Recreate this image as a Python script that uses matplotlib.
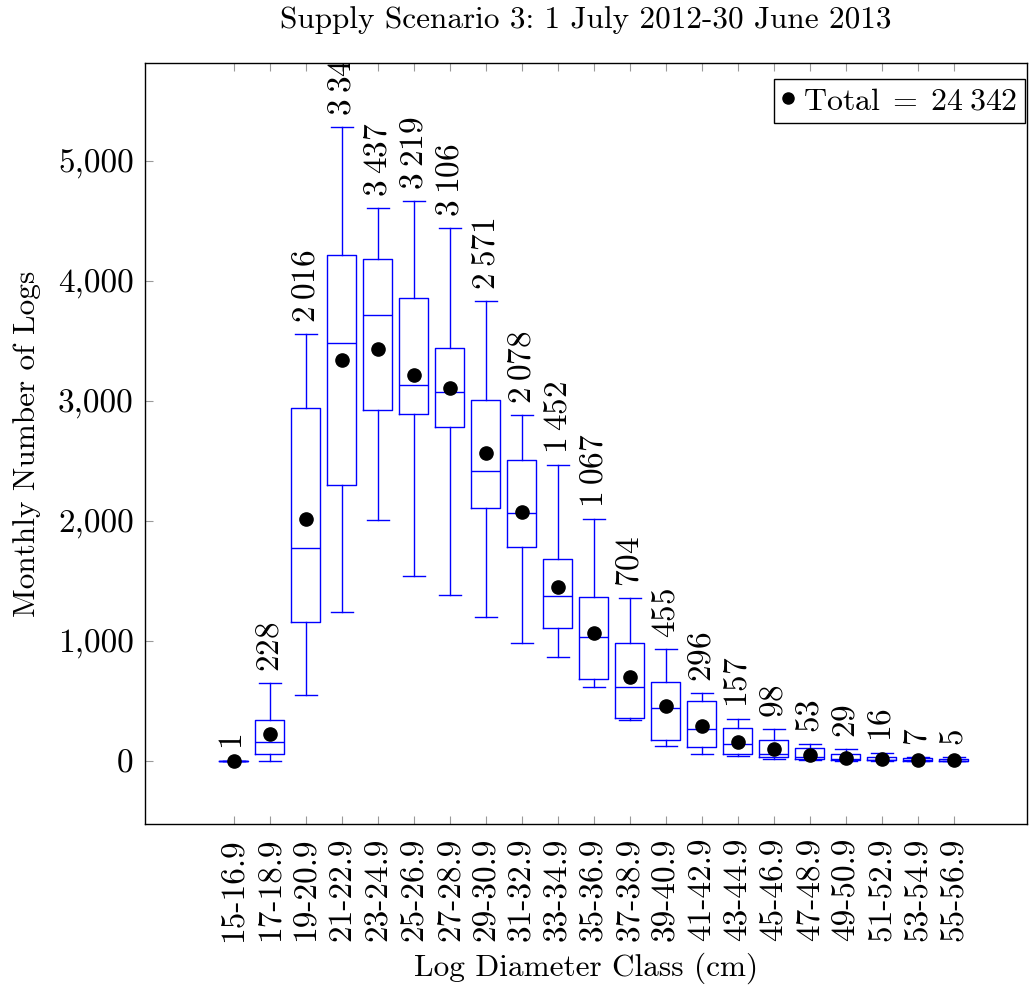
import matplotlib
matplotlib.use("Agg")
import matplotlib.pyplot as plt
from matplotlib.ticker import FuncFormatter, FixedLocator
from matplotlib.lines import Line2D

plt.rcParams['font.family'] = 'cmr10'
plt.rcParams['mathtext.fontset'] = 'cm'
plt.rcParams['axes.formatter.use_mathtext'] = True

categories = ["15-16.9", "17-18.9", "19-20.9", "21-22.9", "23-24.9", "25-26.9",
              "27-28.9", "29-30.9", "31-32.9", "33-34.9", "35-36.9", "37-38.9",
              "39-40.9", "41-42.9", "43-44.9", "45-46.9", "47-48.9", "49-50.9",
              "51-52.9", "53-54.9", "55-56.9"]
whislo = [0, 3, 550, 1242, 2008, 1542, 1383, 1203, 983, 869, 619, 342, 125, 56, 42, 19, 10, 3, 2, 0, 0]
q1 = [0, 58, 1158, 2300, 2925, 2892, 2781, 2108, 1783, 1106, 686, 356, 172, 114, 58, 31, 17, 8, 5, 2, 1]
median = [0, 156, 1775, 3483, 3714, 3133, 3078, 2414, 2067, 1375, 1031, 614, 439, 267, 139, 61, 30, 20, 12, 5, 3]
q3 = [2, 339, 2942, 4213, 4181, 3856, 3439, 3008, 2511, 1681, 1364, 981, 656, 497, 272, 175, 111, 56, 31, 22, 18]
whishi = [3, 650, 3558, 5283, 4608, 4669, 4439, 3833, 2883, 2469, 2014, 1358, 936, 569, 347, 267, 144, 103, 69, 36, 36]
means = [1, 228, 2016, 3343, 3437, 3219, 3106, 2571, 2078, 1452, 1067, 704, 455, 296, 157, 98, 53, 29, 16, 7, 5]
total = 24342

fig = plt.figure(figsize=(10.34, 9.89), dpi=100)
ax = fig.add_axes([0.1402, 0.1668, 0.8530, 0.7695])

positions = list(range(1, len(categories) + 1))
stats = []
for i in range(len(categories)):
    stats.append(dict(whislo=whislo[i], q1=q1[i], med=median[i], q3=q3[i],
                      whishi=whishi[i], mean=means[i], fliers=[]))

blue = '#0000ff'
lw = 1.0
ax.bxp(stats, positions=positions, widths=0.8, showmeans=False, showfliers=False,
       patch_artist=False,
       boxprops=dict(color=blue, linewidth=lw),
       whiskerprops=dict(color=blue, linewidth=lw),
       capprops=dict(color=blue, linewidth=lw),
       medianprops=dict(color=blue, linewidth=lw),
       capwidths=0.63, manage_ticks=False)

ax.plot(positions, means, linestyle='none', marker='o', color='black',
        markersize=9.5, zorder=5)

def fmt_num(v):
    s = f"{v:d}"
    if v >= 1000:
        s = s[:-3] + r"\:" + s[-3:]
    return "$" + s + "$"

for x, top, m in zip(positions, whishi, means):
    t = ax.annotate(fmt_num(m), xy=(x, top), xytext=(0, 8), textcoords='offset points',
                    rotation=90, ha='center', va='bottom', fontsize=24,
                    annotation_clip=False)
    t.set_clip_path(ax.patch)

ax.set_xlim(-1.47, 23.03)
ax.set_ylim(-525, 5817)

ax.xaxis.set_major_locator(FixedLocator(positions))
ax.set_xticklabels(categories, rotation=90, fontsize=24)
ax.set_yticks([0, 1000, 2000, 3000, 4000, 5000])
ax.yaxis.set_major_formatter(FuncFormatter(lambda v, p: f"{int(v):,}"))
ax.tick_params(axis='y', labelsize=24, direction='in', length=6, color='#999999',
               left=True, right=False, pad=8)
ax.tick_params(axis='x', direction='in', length=6, color='#999999',
               bottom=True, top=True, pad=10)

for sp in ax.spines.values():
    sp.set_linewidth(1.0)
    sp.set_color('black')

ax.set_title("Supply Scenario 3: 1 July 2012-30 June 2013", fontsize=22.5, pad=25)
ax.set_ylabel("Monthly Number of Logs", fontsize=22.5, labelpad=12)
ax.set_xlabel("Log Diameter Class (cm)", fontsize=22.5, labelpad=8)

total_label = (r"$\mathrm{Total}\;=\;" + f"{total // 1000}" + r"\:" +
               f"{total % 1000:03d}" + "$")
handle = Line2D([], [], linestyle='none', marker='o', color='black', markersize=8)
leg = ax.legend([handle], [total_label], loc='upper right',
                bbox_to_anchor=(0.9977, 0.979), fontsize=23,
                frameon=True, fancybox=False, edgecolor='black', framealpha=1,
                handlelength=0.4, handletextpad=0.25, borderpad=0.25,
                borderaxespad=0.0)
leg.get_frame().set_linewidth(1.0)

fig.savefig("out.png", dpi=100)
